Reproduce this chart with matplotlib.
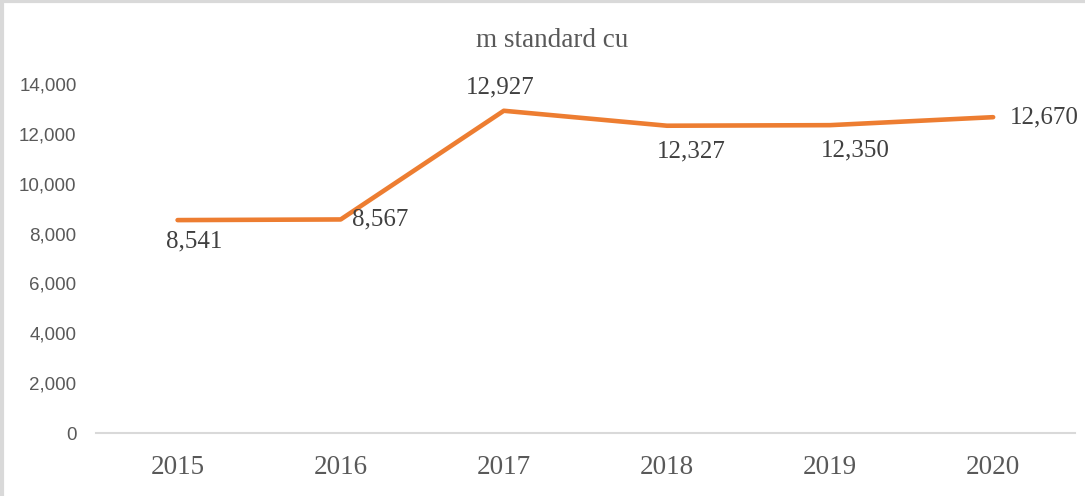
import matplotlib
matplotlib.use("Agg")
import matplotlib.pyplot as plt
from matplotlib.lines import Line2D
from matplotlib.ticker import FuncFormatter

years = ["2015", "2016", "2017", "2018", "2019", "2020"]
values = [8541, 8567, 12927, 12327, 12350, 12670]
yticks = [0, 2000, 4000, 6000, 8000, 10000, 12000, 14000]

# label offsets in pixels (dx, dy) relative to each point
label_offsets = [(17, -21), (39, 0), (-4, 23), (24, -26), (25, -25), (51, 0)]

fig = plt.figure(figsize=(10.85, 4.96), dpi=100)
ax = fig.add_axes([0.0885, 0.127, 0.902, 0.7036])

x = list(range(len(years)))
ax.plot(x, values, color="#ED7D31", linewidth=3.3, solid_capstyle="round",
        solid_joinstyle="round", zorder=3)

for i, v in enumerate(values):
    dx, dy = label_offsets[i]
    ax.annotate(f"{v:,}", (i, v), xytext=(dx, dy), textcoords="offset pixels",
                ha="center", va="center", fontsize=18,
                family="Liberation Serif", color="#404040", annotation_clip=False)

ax.set_xlim(-0.5, len(years) - 0.5)
ax.set_ylim(0, 14000)
ax.set_xticks(x)
ax.set_xticklabels(years, family="Liberation Serif", fontsize=19.5, color="#595959")
ax.set_yticks(yticks)
ax.yaxis.set_major_formatter(FuncFormatter(lambda v, p: f"{int(v):,}"))
for lab in ax.get_yticklabels():
    lab.set_family("Liberation Sans")
    lab.set_fontsize(13.5)
    lab.set_color("#595959")
ax.tick_params(axis="both", length=0)
ax.tick_params(axis="x", pad=16)
ax.tick_params(axis="y", pad=14)

for s in ["top", "right", "left"]:
    ax.spines[s].set_visible(False)
ax.spines["bottom"].set_color("#D9D9D9")
ax.spines["bottom"].set_linewidth(1.5)

fig.text(0.509, 0.918, "m standard cu", ha="center", va="center",
         family="Liberation Serif", fontsize=19.5, color="#595959")

# light grey frame on the left and top edges
fig.add_artist(Line2D([0.0015, 0.0015], [0, 1], transform=fig.transFigure,
                      color="#D9D9D9", linewidth=3))
fig.add_artist(Line2D([0, 1], [0.997, 0.997], transform=fig.transFigure,
                      color="#D9D9D9", linewidth=3))

fig.savefig("out.png", dpi=100)
